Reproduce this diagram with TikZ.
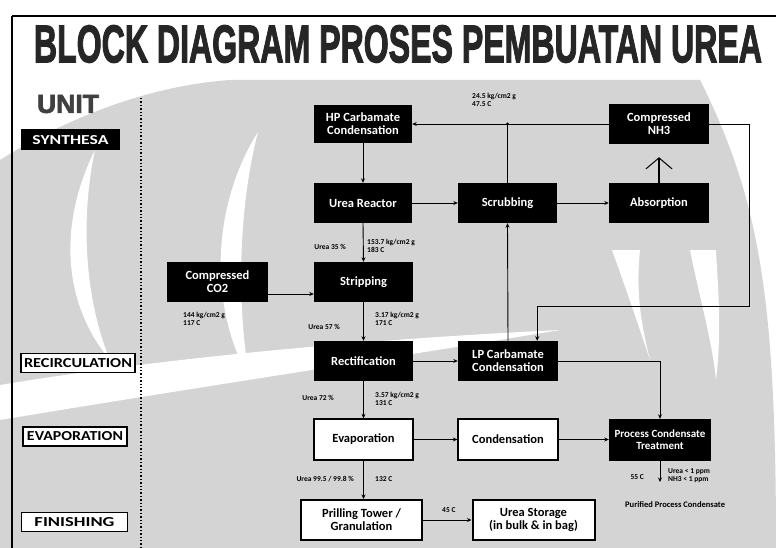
\documentclass[tikz,border=0pt]{standalone}
\usepackage{fontspec}
\setmainfont{Carlito}
\newfontfamily\headfont[FakeBold=2.5]{Liberation Sans Bold}
\usetikzlibrary{arrows.meta}

\tikzset{
  blkbox/.style={rectangle, fill=black, text=white, inner sep=0pt, align=center,
    font=\fontsize{12.5}{13}\selectfont\bfseries, minimum width=99pt, minimum height=40pt},
  whtbox/.style={rectangle, draw=black, line width=1.3pt, fill=white, text=black, inner sep=0pt,
    align=center, font=\fontsize{12.5}{13}\selectfont\bfseries, minimum width=99pt, minimum height=40pt},
  unitblk/.style={rectangle, fill=black, text=white, inner sep=0pt,
    font=\bfseries, minimum width=99pt, minimum height=21pt},
  unitwht/.style={rectangle, draw=black, line width=1.6pt, fill=white, text=black, inner sep=0pt,
    font=\bfseries, minimum height=19pt},
  lbl/.style={font=\fontsize{7.5}{8}\selectfont\bfseries, inner sep=0pt, anchor=west, align=left},
  flow/.style={line width=0.9pt, -{Stealth[length=4.5pt,width=4pt]}},
  wmark/.style={fill=black!17, draw=none}
}

\begin{document}
\begin{tikzpicture}[x=1pt,y=-1pt]
\useasboundingbox (0,0) rectangle (776,548);
\fill[white] (0,0) rectangle (776,548);

% faint emblem in the background
\fill[wmark] (0,160) .. controls (80,110) and (160,85) .. (230,80)
  -- (700,80) .. controls (760,200) and (776,300) .. (776,548) -- (0,548) -- cycle;
\fill[white] (95,150) .. controls (60,220) and (60,300) .. (110,360)
  .. controls (85,300) and (80,220) .. cycle;
\fill[white] (258,132) .. controls (215,200) and (205,300) .. (250,380)
  .. controls (235,300) and (240,200) .. cycle;
\fill[white] (0,385) .. controls (150,360) and (350,340) .. (560,330)
  .. controls (380,360) and (180,390) .. (0,420) -- cycle;
\fill[white] (612,250) .. controls (630,300) and (640,330) .. (650,360)
  .. controls (640,320) and (636,290) .. (640,250) -- cycle;
\fill[white] (690,250) .. controls (700,300) and (712,340) .. (716,380)
  .. controls (722,330) and (718,290) .. (716,250) -- cycle;

% frame
\draw[line width=1.2pt] (12,16) -- (776,16);
\draw[line width=1.2pt] (12,16) -- (12,548);
\draw[line width=1.4pt, dotted] (141,98) -- (141,548);

% heading
\node[inner sep=0pt, text=black!85] (head) at (398,44)
  {\resizebox{728pt}{37pt}{\headfont BLOCK DIAGRAM PROSES PEMBUATAN UREA}};

% unit column
\node[inner sep=0pt, text=black!75] (unit) at (68,104)
  {\resizebox{62pt}{18pt}{\headfont UNIT}};
\node[unitblk] (usyn) at (70.5,140) {\resizebox{76pt}{9pt}{SYNTHESA}};
\node[unitwht, minimum width=114pt] (urec) at (78,363) {\resizebox{108pt}{9pt}{RECIRCULATION}};
\node[unitwht, minimum width=104pt] (uevap) at (75,436.5) {\resizebox{96pt}{9pt}{EVAPORATION}};
\node[unitwht, minimum width=106pt] (ufin) at (74.5,522) {\resizebox{80pt}{9pt}{FINISHING}};

% process units
\node[blkbox, minimum width=98pt, minimum height=38pt] (hp) at (363,124) {HP Carbamate\\Condensation};
\node[blkbox, minimum width=100pt] (nh3) at (659,124) {Compressed\\NH3};
\node[blkbox, minimum width=98pt] (reactor) at (363,203) {Urea Reactor};
\node[blkbox] (scrub) at (507.5,203) {Scrubbing};
\node[blkbox, minimum width=100pt] (absorb) at (659,203) {Absorption};
\node[blkbox] (strip) at (363.5,282) {Stripping};
\node[blkbox, minimum width=101pt] (co2) at (217.5,282) {Compressed\\CO2};
\node[blkbox] (rect) at (363.5,361) {Rectification};
\node[blkbox, minimum width=100pt] (lp) at (508,361) {LP Carbamate\\Condensation};
\node[whtbox, minimum height=41pt] (evap) at (363.5,439.5) {Evaporation};
\node[whtbox, minimum width=100pt, minimum height=41pt] (cond) at (508,439.5) {Condensation};
\node[blkbox, minimum width=102pt, minimum height=42pt, font=\fontsize{11}{12}\selectfont\bfseries]
  (treat) at (660,440) {Process Condensate\\Treatment};
\node[whtbox, line width=2pt, minimum width=121pt] (prill) at (361.5,520) {Prilling Tower /\\Granulation};
\node[whtbox, line width=2pt, minimum width=122pt] (store) at (533.5,520) {Urea Storage\\(in bulk \& in bag)};

\coordinate (loop) at (749,306);
\coordinate (pc) at (660,482);

% connections
\draw[flow] (nh3.west) -- (hp.east);
\draw[line width=0.9pt] (scrub.north) -- (scrub.north |- hp.east);
\fill (scrub.north |- hp.east) circle (1.6pt);
\draw[flow] (hp.south) -- (reactor.north);
\draw[flow] (reactor.east) -- (scrub.west);
\draw[flow] (scrub.east) -- (absorb.west);
\draw[line width=1.2pt, shorten >=13pt, -{Straight Barb[length=11pt,width=26pt,line width=1pt]}]
  (absorb.north) -- (nh3.south);
\draw[flow] (nh3.east) -| (loop) -| ([xshift=-21pt]lp.north east);
\draw[flow] (lp.north) -- (scrub.south);
\draw[flow] ([yshift=-12pt]co2.east) -- ([yshift=-12pt]strip.west);
\draw[flow] (reactor.south) -- (strip.north);
\draw[flow] (strip.south) -- (rect.north);
\draw[flow] (rect.east) -- (lp.west);
\draw[flow] (lp.east) -| (treat.north);
\draw[flow] (rect.south) -- (evap.north);
\draw[flow] (evap.east) -- (cond.west);
\draw[flow] (cond.east) -- (cond.east -| treat.west);
\draw[flow] (evap.south) -- (evap.south |- prill.north);
\draw[flow] (prill.east) -- (store.west);
\draw[flow] (treat.south) -- (pc);

% stream conditions
\node[lbl] (l1) at (472,100) {24.5 kg/cm2 g\\47.5 C};
\node[lbl] (l2) at (367,246) {153.7 kg/cm2 g\\183 C};
\node[lbl, anchor=east] (l3) at (346,247) {Urea 35 \%};
\node[lbl] (l4) at (183,319) {144 kg/cm2 g\\117 C};
\node[lbl] (l5) at (375,318.5) {3.17 kg/cm2 g\\171 C};
\node[lbl, anchor=east] (l6) at (340,327) {Urea 57 \%};
\node[lbl] (l7) at (375,398.5) {3.57 kg/cm2 g\\131 C};
\node[lbl, anchor=east] (l8) at (334,398) {Urea 72 \%};
\node[lbl, anchor=east] (l9) at (354,479) {Urea 99.5 / 99.8 \%};
\node[lbl] (l10) at (375,479) {132 C};
\node[lbl] (l11) at (442,510) {45 C};
\node[lbl, anchor=east] (l12) at (644,477) {55 C};
\node[lbl] (l13) at (668,476) {Urea < 1 ppm\\NH3 < 1 ppm};
\node[lbl, font=\fontsize{8.5}{9}\selectfont\bfseries] (l14) at (625,505) {Purified Process Condensate};
\end{tikzpicture}
\end{document}
